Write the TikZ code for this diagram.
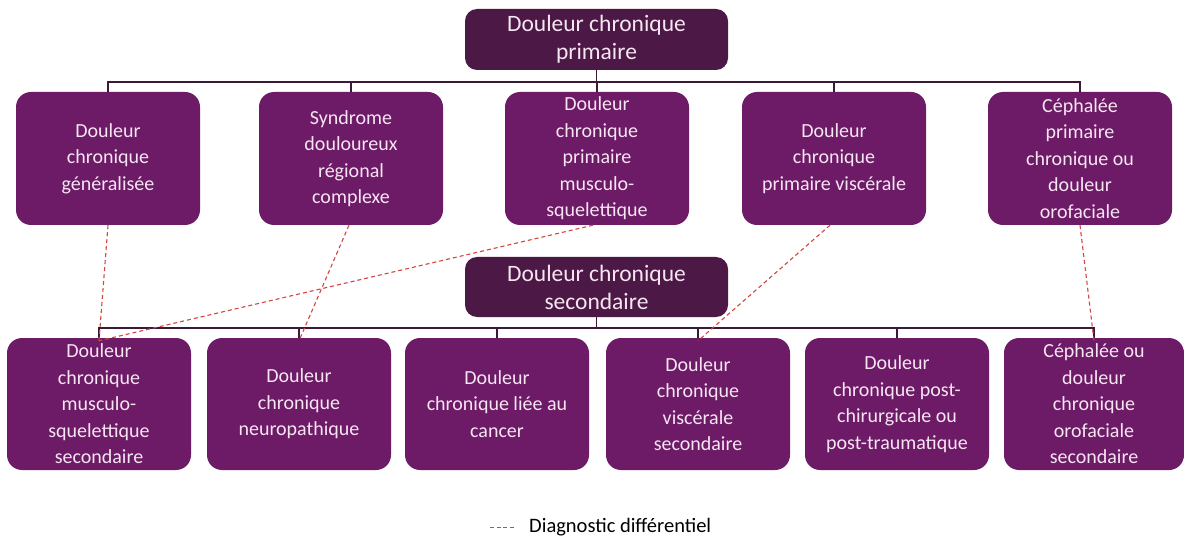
\documentclass[tikz,border=0pt]{standalone}
\usepackage{fontspec}
\setmainfont{Carlito}
\definecolor{boxpurple}{HTML}{6D1A67}
\definecolor{hdrpurple}{HTML}{4C1846}
\definecolor{boxtext}{HTML}{F6E6F2}
\definecolor{linecol}{HTML}{3A1A36}
\definecolor{diffred}{HTML}{D2463F}
\begin{document}
\begin{tikzpicture}[x=1pt,y=-1pt,
  catbox/.style={fill=boxpurple,rounded corners=15pt,minimum width=184pt,minimum height=133pt,
     inner sep=2pt,align=center,text=boxtext,font=\fontsize{20}{26.5}\selectfont},
  hdrbox/.style={fill=hdrpurple,rounded corners=12pt,minimum width=263pt,minimum height=61pt,
     inner sep=2pt,align=center,text=boxtext,font=\fontsize{23.5}{28}\selectfont},
  tree/.style={draw=linecol,line width=1.3pt},
  diff/.style={draw=diffred,line width=1.1pt,dash pattern=on 4pt off 3pt}]
\useasboundingbox (0,0) rectangle (1184,540);
\fill[white] (0,0) rectangle (1184,540);
% headers
\node[hdrbox] (h1) at (596.5,39.5) {Douleur chronique\\primaire};
\node[hdrbox,minimum height=60pt] (h2) at (596.5,287) {Douleur chronique\\secondaire};
% row 1
\node[catbox] (a1) at (108,158.5) {Douleur\\chronique\\généralisée};
\node[catbox] (a2) at (351,158.5) {Syndrome\\douloureux\\régional\\complexe};
\node[catbox] (a3) at (597,158.5) {Douleur\\chronique\\primaire\\musculo-\\squelettique};
\node[catbox] (a4) at (834,158.5) {Douleur\\chronique\\primaire viscérale};
\node[catbox] (a5) at (1080,158.5) {Céphalée\\primaire\\chronique ou\\douleur\\orofaciale};
% row 2
\node[catbox,minimum height=132pt] (b1) at (99,404) {Douleur\\chronique\\musculo-\\squelettique\\secondaire};
\node[catbox,minimum height=132pt] (b2) at (299,404) {Douleur\\chronique\\neuropathique};
\node[catbox,minimum height=132pt] (b3) at (497,404) {Douleur\\chronique liée au\\cancer};
\node[catbox,minimum height=132pt] (b4) at (698,404) {Douleur\\chronique\\viscérale\\secondaire};
\node[catbox,minimum height=132pt] (b5) at (897,404) {Douleur\\chronique post-\\chirurgicale ou\\post-traumatique};
\node[catbox,minimum height=132pt,minimum width=180pt] (b6) at (1094,404) {Céphalée ou\\douleur\\chronique\\orofaciale\\secondaire};
% tree connectors row 1
\coordinate (j1) at (596.5,82);
\draw[tree] (h1.south) -- (j1);
\draw[tree] (a1.north) -- (a1.north |- j1) -- (a5.north |- j1) -- (a5.north);
\foreach \n in {a2,a3,a4} \draw[tree] (\n.north |- j1) -- (\n.north);
% tree connectors row 2
\coordinate (j2) at (596.5,328);
\draw[tree] (h2.south) -- (j2);
\draw[tree] (b1.north) -- (b1.north |- j2) -- (b6.north |- j2) -- (b6.north);
\foreach \n in {b2,b3,b4,b5} \draw[tree] (\n.north |- j2) -- (\n.north);
% differential diagnosis
\draw[diff] (a1.south) -- ([yshift=-3pt]b1.north);
\draw[diff] ([xshift=-2pt]a2.south) -- ([yshift=-3pt]b2.north);
\draw[diff] ([xshift=-4pt]a3.south) -- ([yshift=-3pt]b1.north);
\draw[diff] ([xshift=-4pt]a4.south) -- ([yshift=-3pt]b4.north);
\draw[diff] (a5.south) -- ([yshift=-3pt]b6.north);
% legend
\coordinate (l1) at (490,527);
\coordinate (l2) at (514,527);
\draw[diff,line width=0.9pt,dash pattern=on 4pt off 2.5pt] (l1) -- (l2);
\node[anchor=west,inner sep=0pt,font=\fontsize{20.5}{24}\selectfont,text=black] (leg) at (529,527) {Diagnostic différentiel};
\end{tikzpicture}
\end{document}
